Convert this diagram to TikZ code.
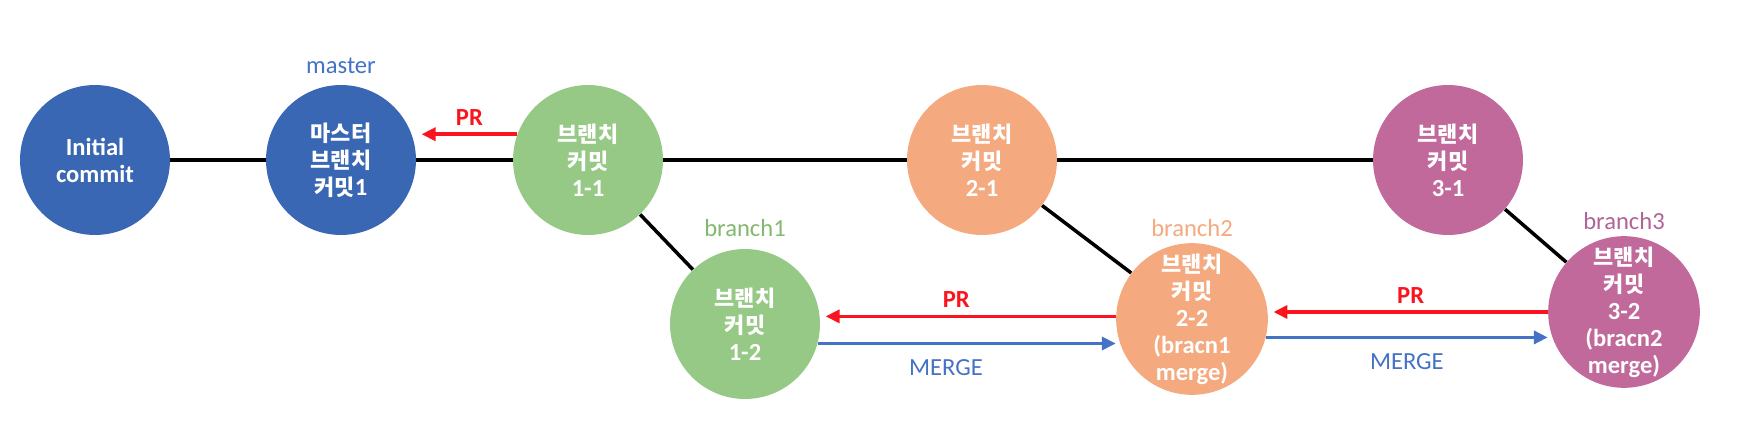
\documentclass[tikz,border=0pt]{standalone}
\usepackage{fontspec}
\setmainfont{Carlito}[Scale=1.12]
\newfontfamily\krfont{Noto Sans CJK KR}
\newcommand{\kt}[1]{{\krfont #1}}
\usepackage{tikz}
\usetikzlibrary{arrows.meta, positioning, backgrounds}
\definecolor{cMaster}{RGB}{58,103,180}
\definecolor{cGreen}{RGB}{151,201,134}
\definecolor{cOrange}{RGB}{244,169,127}
\definecolor{cPurple}{RGB}{192,105,154}
\definecolor{cRed}{RGB}{250,20,30}
\definecolor{cArrow}{RGB}{68,114,196}
\definecolor{cGreenTxt}{RGB}{130,185,110}
\definecolor{cPurpleTxt}{RGB}{176,100,150}
\tikzset{
	commit/.style   ={circle, minimum size=3cm, inner sep=0pt, align=center, text=white, font=\fontsize{12.5}{15.4}\selectfont\bfseries},
	link/.style     ={line width=2pt, black},
	prarrow/.style  ={-{Triangle[length=2.8mm, width=2.6mm]}, line width=2pt, cRed},
	mergearrow/.style={-{Triangle[length=2.8mm, width=2.6mm]}, line width=2pt, cArrow},
	tag/.style      ={inner sep=1pt, font=\fontsize{12.5}{15}\selectfont},
}

\begin{document}
\begin{tikzpicture}[x=0.02cm, y=-0.02cm, node distance=0.15cm]
	\useasboundingbox (0,0) rectangle (1742,446);
	% commits
	\node[commit, fill=cMaster] (init) at (95,160) {Initial\\ commit};
	\node[commit, fill=cMaster] (mst) at (341,160) {\kt{마스터}\\ \kt{브랜치}\\ \kt{커밋}1};
	\node[commit, fill=cGreen] (b11) at (588,160) {\kt{브랜치}\\ \kt{커밋}\\ 1-1};
	\node[commit, fill=cGreen] (b12) at (745,324) {\kt{브랜치}\\ \kt{커밋}\\ 1-2};
	\node[commit, fill=cOrange] (b21) at (982,160) {\kt{브랜치}\\ \kt{커밋}\\ 2-1};
	\node[commit, fill=cOrange] (b22) at (1192,319) {\kt{브랜치}\\ \kt{커밋}\\ 2-2\\ (bracn1\\ merge)};
	\node[commit, fill=cPurple] (b31) at (1448,160) {\kt{브랜치}\\ \kt{커밋}\\ 3-1};
	\node[commit, fill=cPurple] (b32) at (1624,312) {\kt{브랜치}\\ \kt{커밋}\\ 3-2\\ (bracn2\\ merge)};
	% branch names
	\node[tag, text=cArrow, above=0.18cm of mst] (mstname) {master};
	\node[tag, text=cGreenTxt, above=0.2cm of b12] (b1name) {branch1};
	\node[tag, text=cOrange, above=0.08cm of b22] (b2name) {branch2};
	\node[tag, text=cPurpleTxt, above=0.08cm of b32] (b3name) {branch3};
	\begin{scope}[on background layer]
		\draw[link] (init) -- (mst) -- (b11) -- (b21) -- (b31);
		\draw[link] (b11) -- (b12); \draw[link] (b21) -- (b22); \draw[link] (b31) -- (b32);
	\end{scope}
	% pull requests and merges
	\draw[prarrow] (b11.160) -- ([xshift=3pt]b11.160 -| mst.east) node[midway, above=0.1cm, tag, text=cRed] {\bfseries PR};
	\draw[prarrow] (b22.178) -- ([xshift=3pt]b22.178 -| b12.east) node[pos=0.55, above=0.1cm, tag, text=cRed] {\bfseries PR};
	\draw[mergearrow] (b12.-15) -- (b12.-15 -| b22.west) node[pos=0.43, below=0.25cm, tag, text=cArrow] {MERGE};
	\draw[prarrow] (b32.west) -- ([xshift=3pt]b32.west -| b22.east) node[midway, above=0.1cm, tag, text=cRed] {\bfseries PR};
	\draw[mergearrow] (b22.-14) -- (b22.-14 -| b32.west) node[midway, below=0.25cm, tag, text=cArrow] {MERGE};
\end{tikzpicture}
\end{document}
